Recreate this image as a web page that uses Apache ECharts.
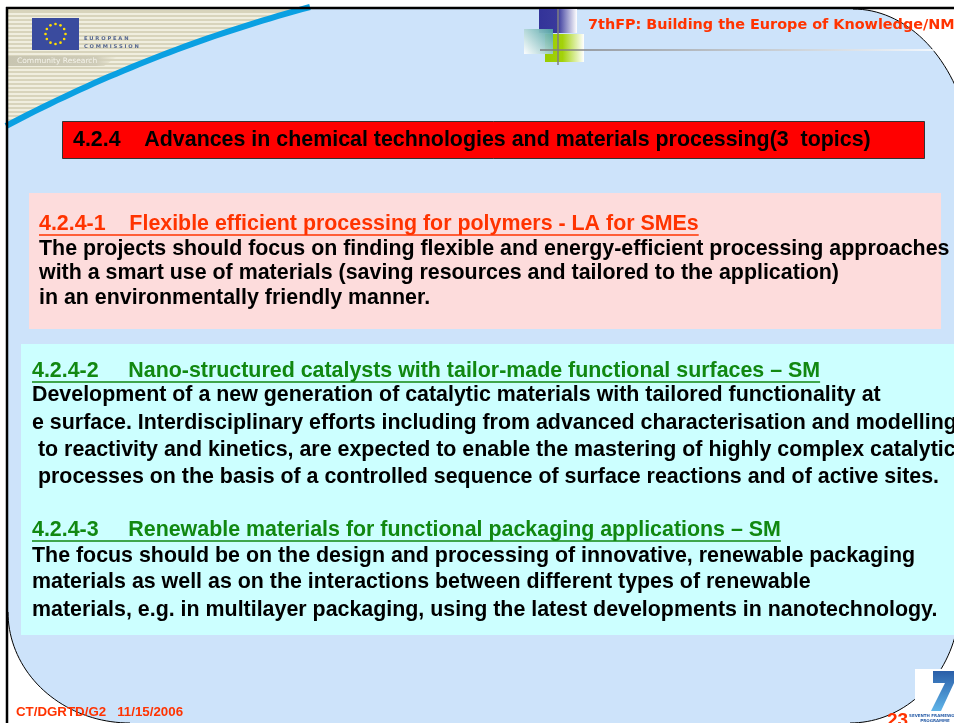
<!DOCTYPE html>
<html>
<head>
<meta charset="utf-8">
<script src="https://cdn.jsdelivr.net/npm/echarts@6/dist/echarts.min.js"></script>
<style>
html, body { margin: 0; padding: 0; background: #fff; }
#main { width: 954px; height: 723px; }
</style>
</head>
<body>
<div id="main"></div>
<script>
// slide texts
var headerTitle = '7thFP: Building the Europe of Knowledge/NM';
var mainTitle = '4.2.4    Advances in chemical technologies and materials processing(3  topics)';
var topicHeads = [
  '4.2.4-1    Flexible efficient processing for polymers - LA for SMEs',
  '4.2.4-2     Nano-structured catalysts with tailor-made functional surfaces \u2013 SM',
  '4.2.4-3     Renewable materials for functional packaging applications \u2013 SM'
];
var topic1Lines = [
  'The projects should focus on finding flexible and energy-efficient processing approaches',
  'with a smart use of materials (saving resources and tailored to the application)',
  'in an environmentally friendly manner.'
];
var topic2Lines = [
  'Development of a new generation of catalytic materials with tailored functionality at',
  'e surface. Interdisciplinary efforts including from advanced characterisation and modelling',
  ' to reactivity and kinetics, are expected to enable the mastering of highly complex catalytic',
  ' processes on the basis of a controlled sequence of surface reactions and of active sites.'
];
var topic3Lines = [
  'The focus should be on the design and processing of innovative, renewable packaging',
  'materials as well as on the interactions between different types of renewable',
  'materials, e.g. in multilayer packaging, using the latest developments in nanotechnology.'
];
var euLines = ['E U R O P E A N', 'C O M M I S S I O N'];
var euTagline = 'Community Research';
var fp7Caption = ['SEVENTH FRAMEWORK', 'PROGRAMME'];
var footerText = 'CT/DGRTD/G2   11/15/2006';
var pageNo = '23';

var myChart = echarts.init(document.getElementById('main'));

var bodyFont = 'bold 21.4px "Liberation Sans", Arial, sans-serif';
var orange = '#ff3300';
var green = '#118811';

var measureCtx = document.createElement('canvas').getContext('2d');
function textWidth(str, font) {
  measureCtx.font = font;
  return measureCtx.measureText(str).width;
}

// points on an ellipse arc
function arcPoints(cx, cy, rx, ry, a0, a1, n) {
  var pts = [];
  for (var i = 0; i <= n; i++) {
    var a = (a0 + (a1 - a0) * i / n) * Math.PI / 180;
    pts.push([cx + rx * Math.cos(a), cy + ry * Math.sin(a)]);
  }
  return pts;
}
// quadratic bezier points
function quadPoints(p0, c, p2, n) {
  var pts = [];
  for (var i = 0; i <= n; i++) {
    var t = i / n, u = 1 - t;
    pts.push([u * u * p0[0] + 2 * u * t * c[0] + t * t * p2[0],
              u * u * p0[1] + 2 * u * t * c[1] + t * t * p2[1]]);
  }
  return pts;
}

var arcTR = arcPoints(853, 170, 120, 161, -90, 0, 40);
var arcBR = arcPoints(850, 600, 110, 123, 0, 90, 40);
var arcBL = arcPoints(130, 612, 122, 111, 90, 180, 40);
var bluePts = [[8, 9]].concat(arcTR, arcBR, arcBL);

var headerCurve = quadPoints([310, 7], [150, 50], [6, 126], 40);
var beigePts = [[6, 8]].concat(headerCurve);

// striped beige fill
var stripeStops = [];
for (var y = 9; y < 130; y += 4) {
  var o0 = (y - 9) / 121, o1 = (y + 1.5 - 9) / 121, o2 = (y + 4 - 9) / 121;
  stripeStops.push({ offset: Math.min(o0, 1), color: '#f0eedf' });
  stripeStops.push({ offset: Math.min(o1, 1), color: '#f0eedf' });
  stripeStops.push({ offset: Math.min(o1, 1), color: '#d8d4bc' });
  stripeStops.push({ offset: Math.min(o2, 1), color: '#d8d4bc' });
}

var els = [];

// light blue background shape
els.push({ type: 'polygon', shape: { points: bluePts }, style: { fill: '#cde3fa', stroke: null } });
[arcTR, arcBR, arcBL].forEach(function (a) {
  els.push({ type: 'polyline', shape: { points: a }, style: { stroke: '#000', lineWidth: 1, fill: null } });
});

// EU header corner
els.push({
  type: 'polygon', shape: { points: beigePts },
  style: { fill: { type: 'linear', x: 0, y: 9, x2: 0, y2: 130, global: true, colorStops: stripeStops } }
});
els.push({ type: 'polygon', shape: { points: [[8, 56], [118, 56], [104, 66], [8, 66]] },
  style: { fill: { type: 'linear', x: 0, y: 0, x2: 1, y2: 0, colorStops: [{ offset: 0, color: '#c8c5b1' }, { offset: 0.8, color: '#cfccb8' }, { offset: 1, color: 'rgba(216,212,188,0)' }] } } });
els.push({ type: 'polyline', shape: { points: headerCurve }, style: { stroke: '#0aa0e2', lineWidth: 6, fill: null } });
els.push({ type: 'rect', shape: { x: 32, y: 18, width: 47, height: 32 }, style: { fill: '#3a4b9e' } });
for (var k = 0; k < 12; k++) {
  var ang = k * 30 * Math.PI / 180;
  els.push({ type: 'circle', shape: { cx: 55.5 + 10 * Math.cos(ang), cy: 34 + 10 * Math.sin(ang), r: 1.3 }, style: { fill: '#ffdd00' } });
}
els.push({ type: 'text', style: { text: euLines[0], x: 84, y: 39, font: 'bold 5.2px "DejaVu Sans", sans-serif', fill: '#56678f', verticalAlign: 'middle' } });
els.push({ type: 'text', style: { text: euLines[1], x: 84, y: 47, font: 'bold 5.2px "DejaVu Sans", sans-serif', fill: '#56678f', verticalAlign: 'middle' } });
els.push({ type: 'text', style: { text: euTagline, x: 17, y: 61, font: '7.5px "DejaVu Sans", sans-serif', fill: '#f4f3ea', verticalAlign: 'middle' } });

// slide frame
els.push({ type: 'line', shape: { x1: 6, y1: 8, x2: 954, y2: 8 }, style: { stroke: '#000', lineWidth: 2.5 } });
els.push({ type: 'line', shape: { x1: 7, y1: 7, x2: 7, y2: 723 }, style: { stroke: '#000', lineWidth: 2.5 } });

// top right decoration
els.push({ type: 'rect', shape: { x: 539, y: 9, width: 38, height: 24 },
  style: { fill: { type: 'linear', x: 0, y: 0, x2: 1, y2: 0, colorStops: [{ offset: 0, color: '#333399' }, { offset: 0.5, color: '#3a3a9c' }, { offset: 1, color: '#ffffff' }] } } });
els.push({ type: 'rect', shape: { x: 545, y: 34, width: 39, height: 28 },
  style: { fill: { type: 'linear', x: 0, y: 0, x2: 1, y2: 0, colorStops: [{ offset: 0, color: '#99cc00' }, { offset: 0.45, color: '#a3d20a' }, { offset: 1, color: '#ffffff' }] } } });
els.push({ type: 'rect', shape: { x: 524, y: 29, width: 29, height: 25 },
  style: { fill: { type: 'linear', x: 1, y: 0, x2: 0, y2: 1, colorStops: [{ offset: 0, color: '#4fa3a3' }, { offset: 1, color: '#ffffff' }] }, opacity: 0.95 } });
els.push({ type: 'line', shape: { x1: 558, y1: 9, x2: 558, y2: 65 }, style: { stroke: '#808080', lineWidth: 1.5 } });
els.push({ type: 'line', shape: { x1: 540, y1: 50, x2: 936, y2: 50 },
  style: { lineWidth: 1.5, stroke: { type: 'linear', x: 0, y: 0, x2: 1, y2: 0, colorStops: [{ offset: 0, color: '#777' }, { offset: 1, color: '#ffffff' }] } } });
els.push({ type: 'text', style: { text: headerTitle, x: 588, y: 25, font: 'bold 14.4px "DejaVu Sans", Verdana, sans-serif', fill: orange, verticalAlign: 'middle' } });

// title box
els.push({ type: 'rect', shape: { x: 62.5, y: 121.5, width: 862, height: 37 }, style: { fill: '#ff0000', stroke: '#333', lineWidth: 1 } });
els.push({ type: 'text', style: { text: mainTitle, x: 73, y: 140, font: bodyFont, fill: '#000', verticalAlign: 'middle' } });

// topic panels
els.push({ type: 'rect', shape: { x: 29, y: 193, width: 912, height: 136 }, style: { fill: '#fddcdc' } });
els.push({ type: 'rect', shape: { x: 21, y: 344, width: 940, height: 291 }, style: { fill: '#ccffff' } });

function addTopic(head, lines, x, headY, lineYs, color) {
  els.push({ type: 'text', style: { text: head, x: x, y: headY, font: bodyFont, fill: color, verticalAlign: 'middle' } });
  var w = textWidth(head, bodyFont);
  els.push({ type: 'line', shape: { x1: x, y1: headY + 11, x2: x + w, y2: headY + 11 }, style: { stroke: color, lineWidth: 1.5 } });
  lines.forEach(function (s, i) {
    els.push({ type: 'text', style: { text: s, x: x, y: lineYs[i], font: bodyFont, fill: '#000', verticalAlign: 'middle' } });
  });
}
addTopic(topicHeads[0], topic1Lines, 39, 224, [249, 273, 298], orange);
addTopic(topicHeads[1], topic2Lines, 32, 371, [395, 423, 450, 477], green);
addTopic(topicHeads[2], topic3Lines, 32, 530, [556, 582, 610], green);

// footer
els.push({ type: 'text', style: { text: footerText, x: 16, y: 712, font: 'bold 13.3px "Liberation Sans", Arial, sans-serif', fill: orange, verticalAlign: 'middle' } });
els.push({ type: 'text', style: { text: pageNo, x: 887, y: 721, font: 'bold 19px "Liberation Sans", Arial, sans-serif', fill: orange, verticalAlign: 'middle' } });

// FP7 logo
els.push({ type: 'rect', shape: { x: 915, y: 669, width: 39, height: 54 }, style: { fill: '#ffffff' } });
els.push({ type: 'polygon', shape: { points: [[933, 671], [954, 671], [954, 683], [941, 711], [931, 711], [945, 683], [933, 683]] },
  style: { fill: { type: 'linear', x: 0, y: 0, x2: 0, y2: 1, colorStops: [{ offset: 0, color: '#2a5ea8' }, { offset: 1, color: '#5fb4e8' }] } } });
els.push({ type: 'text', style: { text: fp7Caption[0], x: 935, y: 716, font: 'bold 4px "DejaVu Sans", sans-serif', fill: '#2a5ea8', align: 'center', verticalAlign: 'middle' } });
els.push({ type: 'text', style: { text: fp7Caption[1], x: 935, y: 721, font: 'bold 4px "DejaVu Sans", sans-serif', fill: '#2a5ea8', align: 'center', verticalAlign: 'middle' } });

var option = {
  backgroundColor: '#ffffff',
  animation: false,
  graphic: { elements: els }
};
myChart.setOption(option);
</script>
</body>
</html>
